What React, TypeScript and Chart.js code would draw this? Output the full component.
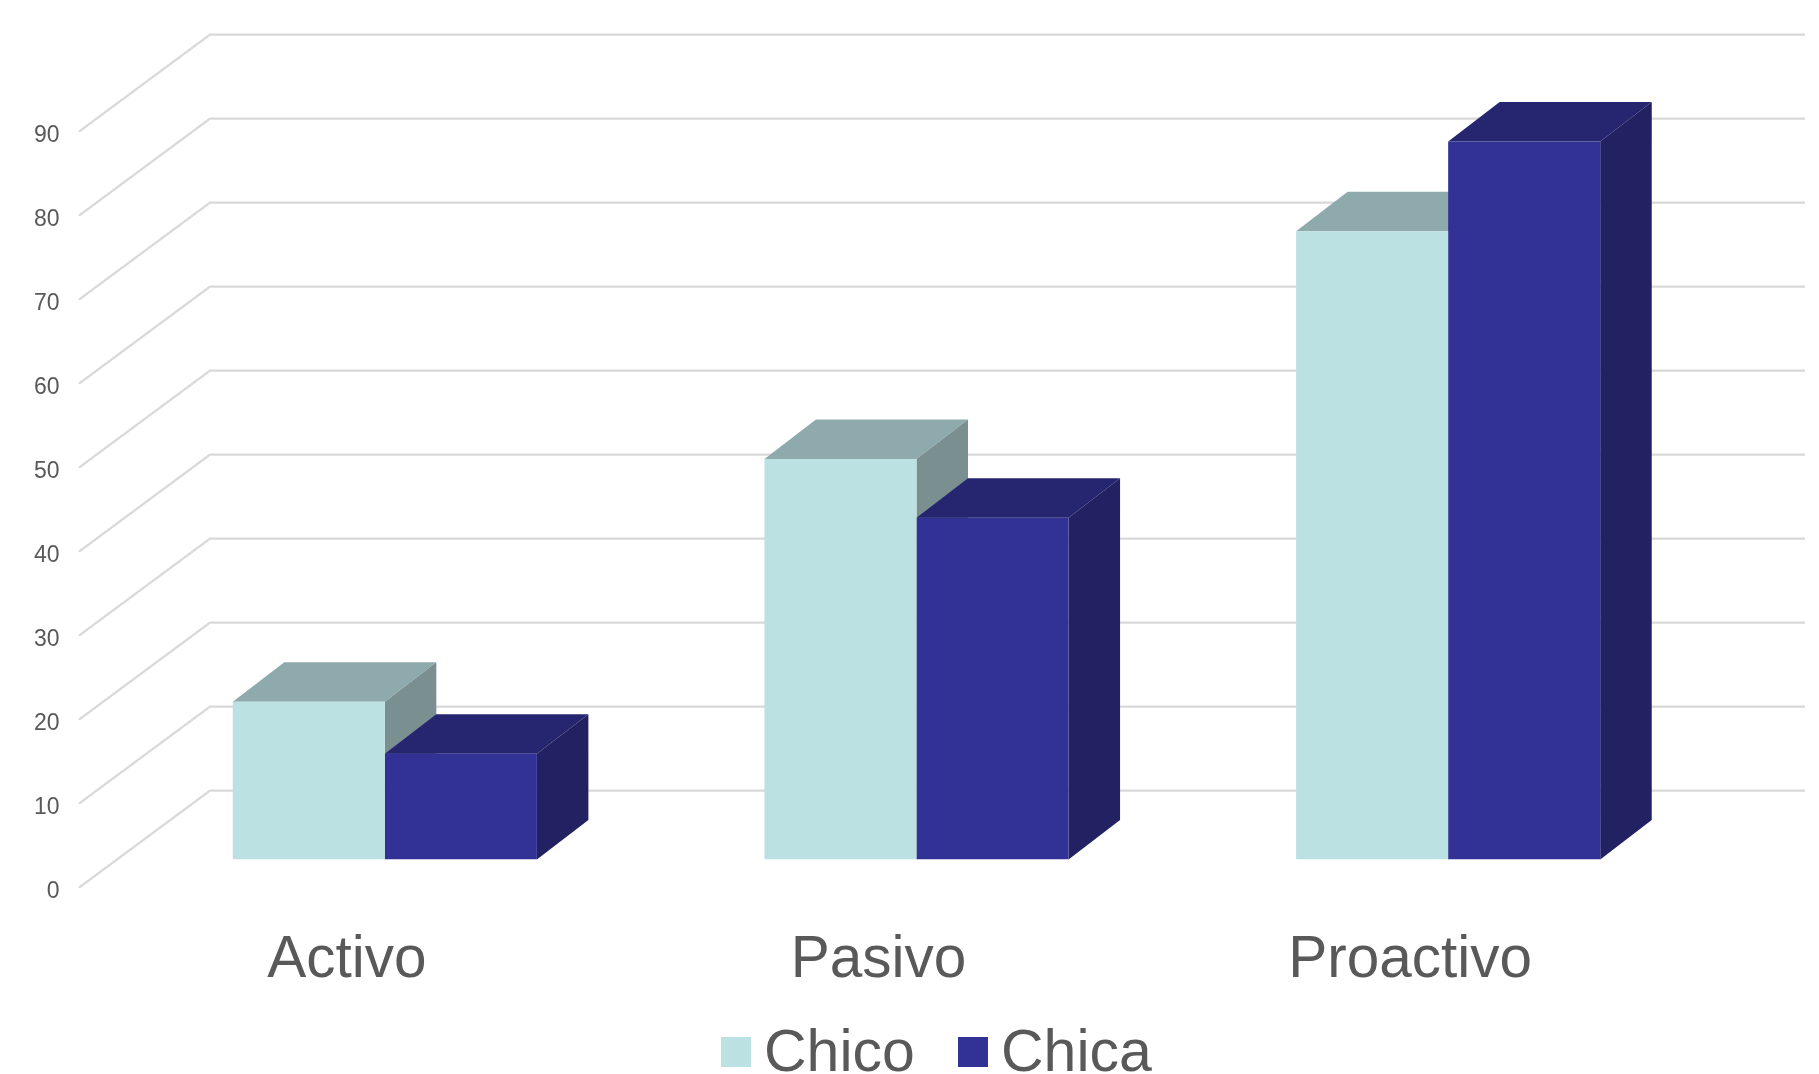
import React, { useEffect, useRef } from "react";
import { Chart, registerables } from "chart.js";

Chart.register(...registerables);

const categories = ["Activo", "Pasivo", "Proactivo"];
const chicoValues = [18.8, 47.7, 74.8];
const chicaValues = [12.6, 40.7, 85.5];
const seriesNames = ["Chico", "Chica"];
const yMax = 90;
const yStep = 10;

const FONT = '"Liberation Sans", Arial, sans-serif';
const TEXT = "#595959";
const GRID = "#D9D9D9";
const DX = 51.5;
const DY = 39.5;
const shades = [
  { front: "#BCE1E2", top: "#8FAAAC", side: "#798F90" },
  { front: "#323296", top: "#262570", side: "#222162" },
];

const wallPlugin = {
  id: "wall3d",
  beforeDatasetsDraw(chart: any) {
    const { ctx, scales } = chart;
    const y = scales.y;
    ctx.save();
    ctx.strokeStyle = GRID;
    ctx.lineWidth = 2.4;
    ctx.lineJoin = "miter";
    for (const t of y.ticks) {
      const p = y.getPixelForValue(t.value);
      ctx.beginPath();
      ctx.moveTo(79, p + 28);
      ctx.lineTo(210, p - 69);
      ctx.lineTo(1805, p - 69);
      ctx.stroke();
    }
    // Tops and sides go down first, series by series, so that each series
    // covers the side of the one on its left; the fronts are the chart's own bars.
    chart.data.datasets.forEach((_: any, i: number) => {
      const c = shades[i];
      for (const bar of chart.getDatasetMeta(i).data as any[]) {
        const w = bar.width;
        const l = bar.x - w / 2;
        const r = bar.x + w / 2;
        const t = bar.y;
        const b = bar.base;
        ctx.fillStyle = c.top;
        ctx.beginPath();
        ctx.moveTo(l, t);
        ctx.lineTo(l + DX, t - DY);
        ctx.lineTo(r + DX, t - DY);
        ctx.lineTo(r, t);
        ctx.closePath();
        ctx.fill();
        ctx.fillStyle = c.side;
        ctx.beginPath();
        ctx.moveTo(r, t);
        ctx.lineTo(r + DX, t - DY);
        ctx.lineTo(r + DX, b - DY);
        ctx.lineTo(r, b);
        ctx.closePath();
        ctx.fill();
      }
    });
    ctx.restore();
  },
  afterDraw(chart: any) {
    const { ctx } = chart;
    const boxX = [721, 958];
    const textX = [764, 1001];
    ctx.save();
    ctx.font = `59px ${FONT}`;
    ctx.textBaseline = "alphabetic";
    ctx.textAlign = "left";
    chart.data.datasets.forEach((ds: any, i: number) => {
      ctx.fillStyle = ds.backgroundColor;
      ctx.fillRect(boxX[i], 1037, 30, 30);
      ctx.fillStyle = TEXT;
      ctx.fillText(ds.label, textX[i], 1071);
    });
    ctx.restore();
  },
};

export default function App() {
  const ref = useRef<HTMLCanvasElement>(null);
  useEffect(() => {
    const chart = new Chart(ref.current as HTMLCanvasElement, {
      type: "bar",
      data: {
        labels: categories,
        datasets: [
          { label: seriesNames[0], data: chicoValues, backgroundColor: shades[0].front },
          { label: seriesNames[1], data: chicaValues, backgroundColor: shades[1].front },
        ],
      },
      plugins: [wallPlugin as any],
      options: {
        animation: false,
        responsive: false,
        layout: { padding: { left: 0, right: 105, top: 103.6, bottom: 0 } },
        datasets: { bar: { categoryPercentage: 0.572, barPercentage: 1 } },
        plugins: { legend: { display: false }, tooltip: { enabled: false } },
        scales: {
          x: {
            grid: { display: false, drawTicks: false },
            border: { display: false },
            afterFit: (s: any) => { s.height = 214.4; },
            ticks: {
              autoSkip: false,
              maxRotation: 0,
              padding: 66,
              labelOffset: -38,
              color: TEXT,
              font: { family: FONT, size: 58.5 },
            },
          },
          y: {
            min: 0,
            max: yMax,
            grid: { display: false, drawTicks: false },
            border: { display: false },
            afterFit: (s: any) => { s.width = 119; },
            ticks: {
              stepSize: yStep,
              padding: 59.5,
              labelOffset: 32,
              color: TEXT,
              font: { family: FONT, size: 23 },
            },
          },
        },
      } as any,
    });
    return () => chart.destroy();
  }, []);
  return (
    <canvas
      ref={ref}
      width={1819}
      height={1074}
      style={{ position: "absolute", left: 0, top: 0, display: "block", background: "#fff" }}
    />
  );
}
